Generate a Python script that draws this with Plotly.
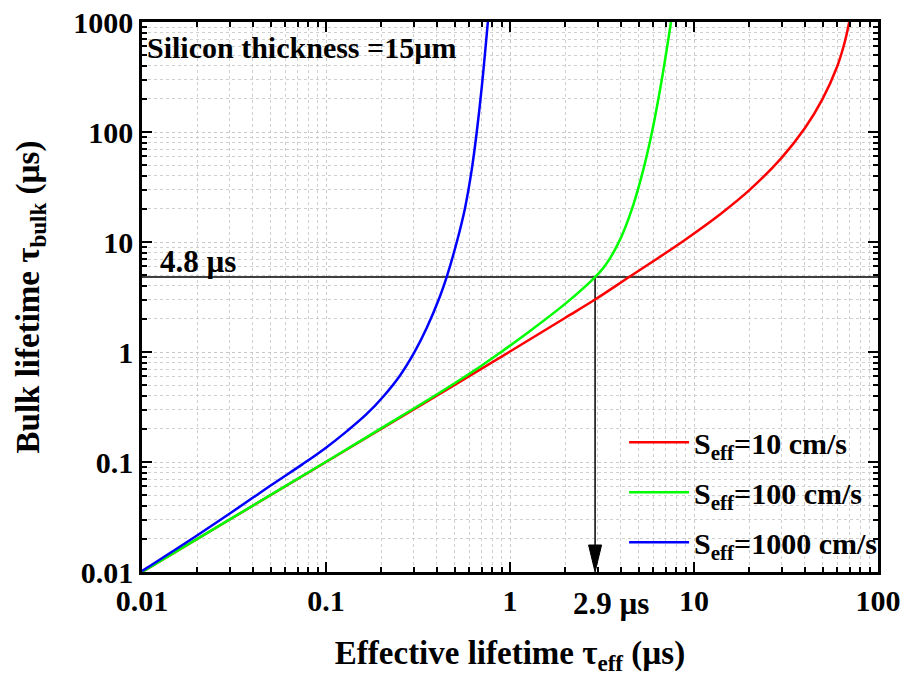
import plotly.graph_objects as go
import math

# tau_eff (us) -> tau_bulk (us)
x_s10 = [0.01, 0.03, 0.1, 0.3, 1, 2, 2.9, 4.4, 6, 9, 14, 20, 30, 40, 50, 60, 65, 67.5, 70]
y_s10 = [0.01, 0.03, 0.1, 0.301, 1.01, 2.05, 3.0, 4.75, 6.68, 10.56, 18.1, 29.6, 58.5, 108, 200, 394, 600, 770, 1030]

x_s100 = [0.01, 0.03, 0.1, 0.2, 0.42, 0.7, 0.88, 1.34, 2.03, 2.9, 3.2, 3.5, 3.85, 4.13, 4.68, 5.3, 5.89, 6.53, 7.1, 7.5]
y_s100 = [0.01, 0.0301, 0.1005, 0.203, 0.433, 0.751, 0.98, 1.636, 2.81, 4.8, 5.76, 7.14, 9.51, 12.24, 21.8, 45.3, 96.9, 240, 554, 1000]

x_s1000 = [0.01, 0.02, 0.03, 0.05, 0.075, 0.1, 0.13, 0.166, 0.205, 0.252, 0.302, 0.353, 0.4165, 0.453, 0.513, 0.569, 0.619, 0.659, 0.702, 0.758]
y_s1000 = [0.0102, 0.0216, 0.034, 0.0611, 0.0962, 0.1351, 0.191, 0.272, 0.394, 0.608, 0.99, 1.66, 3.21, 4.81, 9.89, 20.2, 45.0, 98.4, 254, 1000]

series_names = ["S<sub>eff</sub>=10 cm/s", "S<sub>eff</sub>=100 cm/s", "S<sub>eff</sub>=1000 cm/s"]
series_colors = ["#ff0000", "#00ff00", "#0000ff"]

x_ticks = [0.01, 0.1, 1, 10, 100]
x_ticktext = ["0.01", "0.1", "1", "10", "100"]
y_ticks = [0.01, 0.1, 1, 10, 100, 1000]
y_ticktext = ["0.01", "0.1", "1", "10", "100", "1000"]

tau_bulk_mark = 4.8
tau_eff_mark = 2.9

FONT = "Liberation Serif, Times New Roman, serif"

def minor_vals(decades):
    return [m * 10.0 ** d for d in decades for m in range(2, 10)]

fig = go.Figure()

# reference horizontal line and vertical arrow line
fig.add_trace(go.Scatter(x=[0.01, 100], y=[tau_bulk_mark, tau_bulk_mark], mode="lines",
                         line=dict(color="black", width=1.5), showlegend=False, hoverinfo="skip"))
fig.add_trace(go.Scatter(x=[tau_eff_mark, tau_eff_mark], y=[tau_bulk_mark, 0.015], mode="lines",
                         line=dict(color="black", width=1.5), showlegend=False, hoverinfo="skip"))

for i, (xs, ys) in enumerate([(x_s10, y_s10), (x_s100, y_s100), (x_s1000, y_s1000)]):
    fig.add_trace(go.Scatter(x=xs, y=ys, mode="lines", name=series_names[i],
                             line=dict(color=series_colors[i], width=2.5, shape="spline", smoothing=1.0),
                             legendgroup=str(i)))

def axis_common(minor_tv):
    return dict(
        type="log", showline=True, linecolor="black", linewidth=2.5, mirror="allticks",
        ticks="inside", ticklen=10, tickwidth=2, tickcolor="black",
        showgrid=True, gridcolor="#c8c8c8", gridwidth=1, griddash="dot",
        minor=dict(tickmode="array", tickvals=minor_tv, ticks="inside", ticklen=5, tickwidth=1.5,
                   tickcolor="black", showgrid=True, gridcolor="#cfcfcf", gridwidth=1),
        tickfont=dict(family=FONT, size=30, color="black", weight="bold"),
        zeroline=False, automargin=False,
    )

fig.update_xaxes(**axis_common(minor_vals([-2, -1, 0, 1])), range=[-2, 2],
                 tickmode="array", tickvals=x_ticks, ticktext=x_ticktext,
                 title=dict(text="Effective lifetime τ<sub>eff</sub> (µs)",
                            font=dict(family=FONT, size=33, color="black", weight="bold"), standoff=26))
fig.update_yaxes(**axis_common(minor_vals([-2, -1, 0, 1, 2])), range=[-2, 3],
                 tickmode="array", tickvals=y_ticks, ticktext=y_ticktext,
                 title=dict(text="Bulk lifetime τ<sub>bulk</sub> (µs)",
                            font=dict(family=FONT, size=33, color="black", weight="bold"), standoff=24))

# arrowhead: narrow filled triangle anchored at the arrow tip (pixel-sized)
fig.add_shape(type="path", xref="x", yref="y", xsizemode="pixel", ysizemode="pixel",
              xanchor=tau_eff_mark, yanchor=0.01,
              path="M0,0 L-6.5,27 L6.5,27 Z", fillcolor="black", line=dict(color="black", width=1),
              layer="above")

fig.add_annotation(x=math.log10(tau_eff_mark), y=0, xref="x", yref="paper", yanchor="top",
                   xshift=16, yshift=-12, showarrow=False, text="2.9 µs",
                   font=dict(family=FONT, size=31, color="black", weight="bold"))
fig.add_annotation(x=0.022, y=0.565, xref="paper", yref="paper", xanchor="left", yanchor="middle",
                   showarrow=False, text="4.8 µs",
                   font=dict(family=FONT, size=31, color="black", weight="bold"))
fig.add_annotation(x=0.004, y=0.953, xref="paper", yref="paper", xanchor="left", yanchor="middle",
                   showarrow=False, text="Silicon thickness =15µm",
                   font=dict(family=FONT, size=30, color="black", weight="bold"))

fig.update_layout(
    width=908, height=684,
    margin=dict(l=142, r=30, t=22, b=112),
    paper_bgcolor="white", plot_bgcolor="white",
    font=dict(family=FONT, color="black"),
    showlegend=True,
    legend=dict(x=0.655, y=0.283, xanchor="left", yanchor="top", bgcolor="rgba(0,0,0,0)",
                font=dict(family=FONT, size=30, color="black", weight="bold"),
                tracegroupgap=8, itemwidth=60),
)

fig.write_html("out.html")
